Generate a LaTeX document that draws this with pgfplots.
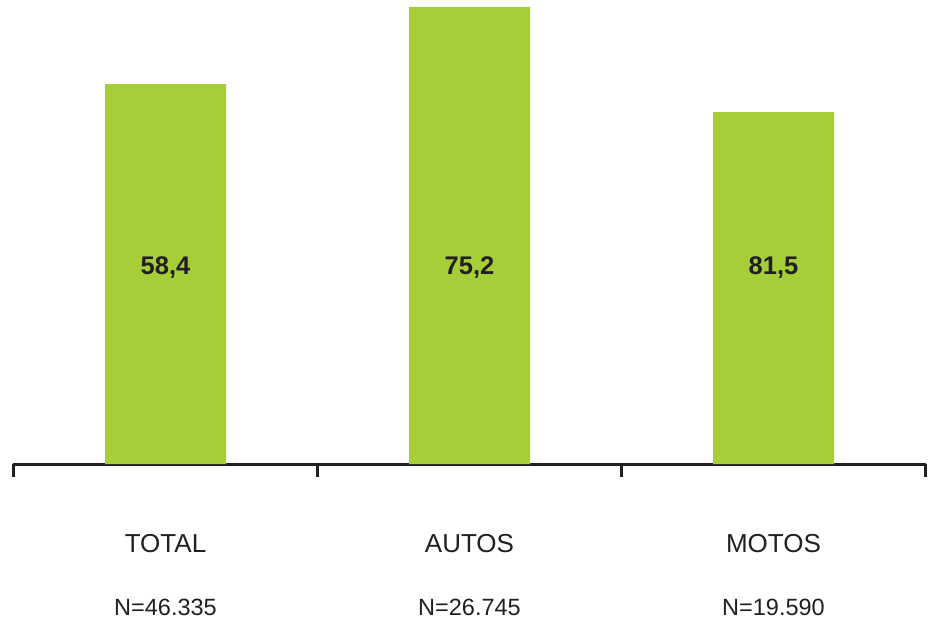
\documentclass[border=0pt]{standalone}
\usepackage{pgfplots}
\pgfplotsset{compat=1.18}
\usepackage{fontspec}
\setmainfont{Liberation Sans}
\definecolor{bargreen}{RGB}{166,206,57}
\definecolor{axisdark}{RGB}{35,31,32}
\begin{document}
\begin{tikzpicture}
\useasboundingbox (-13.5pt,-158pt) rectangle (917.5pt,464pt);
\begin{axis}[
  at={(0,0)}, anchor=south west,
  scale only axis, width=912pt, height=457pt,
  xmin=-0.5, xmax=2.5, ymin=0, ymax=457,
  axis x line*=bottom, axis y line=none,
  x axis line style={line width=3pt, color=axisdark, -},
  xtick={-0.5,0.5,1.5,2.5}, xticklabels={},
  tick align=outside, major tick length=13pt,
  x tick style={line width=3.2pt, color=axisdark},
  clip=false,
]
\addplot[ybar, bar width=121pt, fill=bargreen, draw=none] coordinates {(0,380) (1,457) (2,352)};
\addplot[draw=none, mark=none, nodes near coords, point meta=explicit symbolic,
  every node near coord/.append style={anchor=center, font=\fontsize{25.5}{30}\selectfont\bfseries, text=axisdark}]
  table[meta=label] {
x y label
0 196 58,4
1 196 75,2
2 196 81,5
};
\node[font=\fontsize{26}{30}\selectfont, text=axisdark] at (axis cs:0,-80) {TOTAL};
\node[font=\fontsize{26}{30}\selectfont, text=axisdark] at (axis cs:1,-80) {AUTOS};
\node[font=\fontsize{26}{30}\selectfont, text=axisdark] at (axis cs:2,-80) {MOTOS};
\node[font=\fontsize{23.5}{28}\selectfont, text=axisdark] at (axis cs:0,-143) {N=46.335};
\node[font=\fontsize{23.5}{28}\selectfont, text=axisdark] at (axis cs:1,-143) {N=26.745};
\node[font=\fontsize{23.5}{28}\selectfont, text=axisdark] at (axis cs:2,-143) {N=19.590};
\end{axis}
\end{tikzpicture}
\end{document}
